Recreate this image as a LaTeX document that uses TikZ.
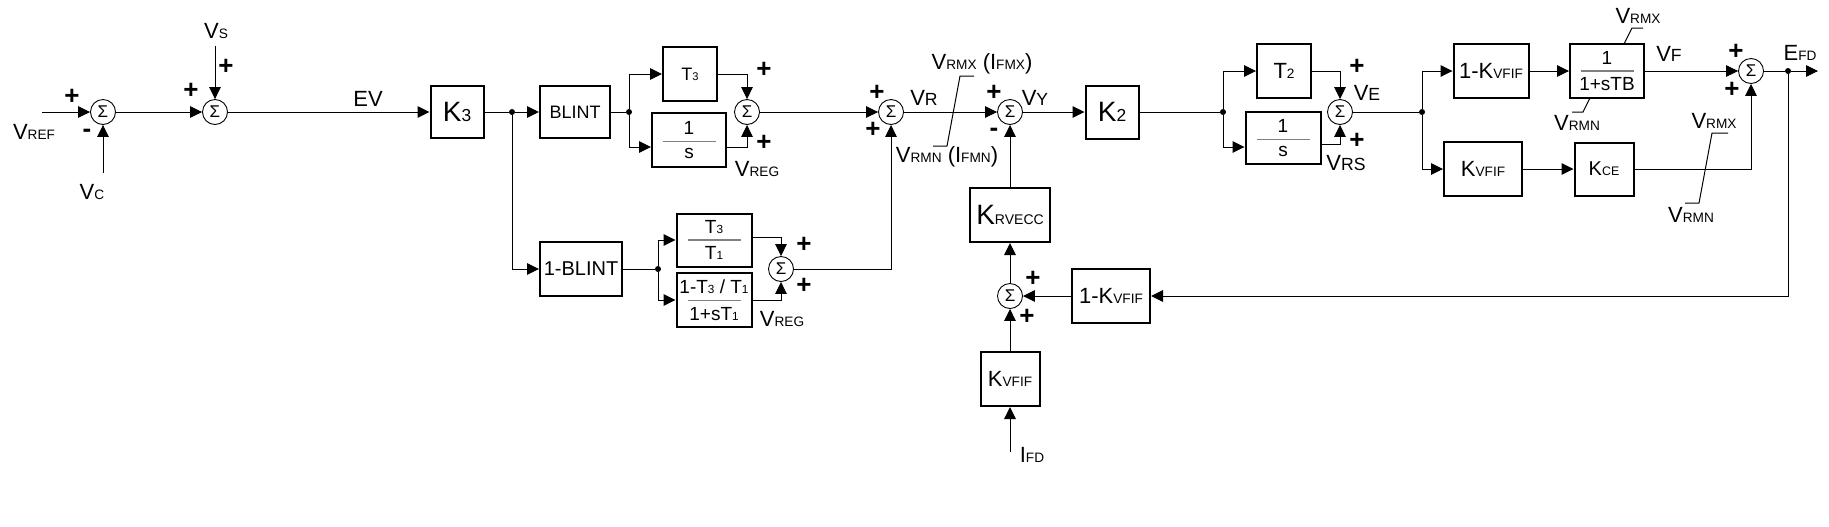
\documentclass[tikz,border=0pt]{standalone}
\usepackage{fontspec}
\setmainfont{Liberation Sans}
\usetikzlibrary{arrows.meta,positioning}
\makeatletter
% smaller letters on the baseline, scaled from the current size
\newcommand\lo[1]{{\fontsize{\strip@pt\dimexpr0.62\dimexpr\f@size pt\relax\relax}{1em}\selectfont #1}}
\newcommand\mo[1]{{\fontsize{\strip@pt\dimexpr0.8\dimexpr\f@size pt\relax\relax}{1em}\selectfont #1}}
\newcommand\so[1]{{\fontsize{\strip@pt\dimexpr0.5\dimexpr\f@size pt\relax\relax}{1em}\selectfont #1}}
\makeatother
\newcommand\frc[2]{\shortstack{#1\\\textcolor{gray}{\rule{26.5pt}{0.7pt}}\\#2}}

\begin{document}
\begin{tikzpicture}[x=0.5pt,y=-0.5pt]
\tikzset{
  blk/.style={draw,line width=1pt,inner sep=1pt,align=center},
  bigtxt/.style={font=\fontsize{14}{16}\selectfont},
  midtxt/.style={font=\fontsize{11}{13}\selectfont},
  smalltxt/.style={font=\fontsize{9}{11}\selectfont},
  fractxt/.style={font=\fontsize{9.5}{11}\selectfont},
  sumnode/.style={circle,draw,line width=0.45pt,minimum size=12.5pt,inner sep=0pt,font=\fontsize{8.5}{9}\selectfont},
  sig/.style={font=\fontsize{13}{14}\selectfont\bfseries,inner sep=0pt},
  lbl/.style={font=\fontsize{11}{12}\selectfont,inner sep=0pt},
  wire/.style={line width=0.5pt},
  arr/.style={wire,-{Triangle[length=6pt,width=5.8pt]}},
  jdot/.style={circle,fill,inner sep=0pt,minimum size=3pt}
}
\useasboundingbox (0,0) rectangle (1829,526);

% summing points
\node[sumnode] (s1) at (103,112) {Σ};
\node[sumnode] (s2) at (215,112) {Σ};
\node[sumnode] (s3) at (747,112) {Σ};
\node[sumnode] (s4) at (891,112) {Σ};
\node[sumnode] (s5) at (781,269) {Σ};
\node[sumnode] (s6) at (1010,112) {Σ};
\node[sumnode] (s7) at (1010,296) {Σ};
\node[sumnode] (s8) at (1340,112) {Σ};
\node[sumnode] (s9) at (1751,71) {Σ};

% blocks
\node[blk,bigtxt,minimum width=26.5pt,minimum height=26pt] (k3) at (457,112) {K\lo{3}};
\node[blk,font=\fontsize{9}{11}\selectfont,minimum width=35pt,minimum height=26pt] (blint) at (575,112) {BLINT};
\node[blk,smalltxt,minimum width=27pt,minimum height=27pt] (t3) at (690,74) {T\lo{3}};
\node[blk,fractxt,minimum width=37pt,minimum height=27pt] (ints) at (689,140) {\frc{1}{s}};
\node[blk,font=\fontsize{10}{12}\selectfont,minimum width=41pt,minimum height=27pt] (nblint) at (581,269) {1-BLINT};
\node[blk,fractxt,minimum width=37.5pt,minimum height=26.5pt] (t3t1) at (714,240) {\frc{T\lo{3}}{T\lo{1}}};
\node[blk,fractxt,minimum width=37.5pt,minimum height=27pt] (lag) at (714,300) {\frc{1-T\lo{3} / T\lo{1}}{1+sT\lo{1}}};
\node[blk,bigtxt,minimum width=26.5pt,minimum height=26.5pt] (k2) at (1112,112) {K\lo{2}};
\node[blk,bigtxt,minimum width=40pt,minimum height=27pt] (krvecc) at (1010,215) {K\so{RVECC}};
\node[blk,midtxt,minimum width=39pt,minimum height=27pt] (nkvfif2) at (1111,296) {1-K\lo{VFIF}};
\node[blk,midtxt,minimum width=29.5pt,minimum height=27pt] (kvfif2) at (1010,379) {K\lo{VFIF}};
\node[blk,midtxt,minimum width=27pt,minimum height=27pt] (t2) at (1284,71) {T\lo{2}};
\node[blk,fractxt,minimum width=37.5pt,minimum height=26pt] (ints2) at (1283,138) {\frc{1}{s}};
\node[blk,midtxt,minimum width=37.5pt,minimum height=27pt] (nkvfif) at (1491,71) {1-K\lo{VFIF}};
\node[blk,midtxt,minimum width=39pt,minimum height=27pt] (kvfif) at (1483,169) {K\lo{VFIF}};
\node[blk,fractxt,minimum width=37pt,minimum height=27pt] (lagb) at (1607,71) {\frc{1}{1+sTB}};
\node[blk,font=\fontsize{10}{12}\selectfont,minimum width=29.5pt,minimum height=26.5pt] (kce) at (1604,169) {K\lo{CE}};

% junctions and free ends
\node[jdot] (d1) at (512,112) {};
\node[jdot] (d2) at (629,112) {};
\node[jdot] (d3) at (658,269) {};
\node[jdot] (d4) at (1223,112) {};
\node[jdot] (d5) at (1422,112) {};
\node[jdot] (d6) at (1788,71) {};
\coordinate (vref) at (42,112);
\coordinate (vc) at (103,173);
\coordinate (vs) at (215,46);
\coordinate (ifd) at (1010,452);
\coordinate (efd) at (1818,71);

% connectors
\draw[arr] (vref) -- (s1);
\draw[arr] (vc) -- (s1);
\draw[arr] (s1) -- (s2);
\draw[arr] (vs) -- (s2);
\draw[arr] (s2) -- (k3);
\draw[wire] (k3) -- (d1);
\draw[arr] (d1) -- (blint);
\draw[wire] (blint) -- (d2);
\draw[arr] (d2) |- (t3);
\draw[arr] (d2) |- ([yshift=-3.5pt]ints.west);
\draw[arr] (t3) -| (s3);
\draw[arr] ([yshift=-3.5pt]ints.east) -| (s3);
\draw[arr] (s3) -- (s4);
\draw[arr] (d1) |- (nblint);
\draw[wire] (nblint) -- (d3);
\draw[arr] (d3) |- (t3t1);
\draw[arr] (d3) |- (lag);
\draw[arr] ([yshift=1.5pt]t3t1.east) -| (s5);
\draw[arr] (lag) -| (s5);
\draw[arr] (s5) -| (s4);
\draw[arr] (s4) -- (s6);
\draw[arr] (s6) -- (k2);
\draw[wire] (k2) -- (d4);
\draw[arr] (d4) |- (t2);
\draw[arr] (d4) |- ([yshift=-4.5pt]ints2.west);
\draw[arr] (t2) -| (s8);
\draw[arr] ([yshift=-3pt]ints2.east) -| (s8);
\draw[wire] (s8) -- (d5);
\draw[arr] (d5) |- (nkvfif);
\draw[arr] (d5) |- (kvfif);
\draw[arr] (nkvfif) -- (lagb);
\draw[arr] (kvfif) -- (kce);
\draw[arr] (lagb) -- (s9);
\draw[arr] (kce) -| (s9);
\draw[wire] (s9) -- (d6);
\draw[arr] (d6) -- (efd);
\draw[arr] (d6) |- (nkvfif2);
\draw[arr] (nkvfif2) -- (s7);
\draw[arr] (ifd) -- (kvfif2);
\draw[arr] (kvfif2) -- (s7);
\draw[arr] (s7) -- (krvecc);
\draw[arr] (krvecc) -- (s6);

% limits
\draw[wire] (933,146) -- (947,146) -- (960,76) -- (974,76);
\draw[wire] (1685,203) -- (1699,203) -- (1712,133) -- (1728,133);
\draw[wire] (1624,44) -- (1632,28) -- (1643,28);
\draw[wire] (1590,98) -- (1583,112) -- (1572,112);

% signs
\node[sig] at (72,97) {+};
\node[sig] at (87,133) {-};
\node[sig] at (226,67) {+};
\node[sig] at (191,91) {+};
\node[sig] at (764,70) {+};
\node[sig] at (764,143) {+};
\node[sig] at (877,93) {+};
\node[sig] at (873,130) {+};
\node[sig] at (994,93) {+};
\node[sig] at (994,132) {-};
\node[sig] at (804,245) {+};
\node[sig] at (804,286) {+};
\node[sig] at (1033,279) {+};
\node[sig] at (1027,317) {+};
\node[sig] at (1357,67) {+};
\node[sig] at (1357,141) {+};
\node[sig] at (1736,52) {+};
\node[sig] at (1732,90) {+};

% signal names
\node[lbl] at (34,132) {V\lo{REF}};
\node[lbl] at (92,192) {V\lo{C}};
\node[lbl] at (216,31) {V\lo{S}};
\node[lbl] at (368,99) {EV};
\node[lbl] at (757,169) {V\lo{REG}};
\node[lbl] at (782,319) {V\lo{REG}};
\node[lbl] at (924,98) {V\mo{R}};
\node[lbl] at (982,64) {V\lo{RMX} (I\lo{FMX})};
\node[lbl] at (947,157) {V\lo{RMN} (I\lo{FMN})};
\node[lbl] at (1035,98) {V\mo{Y}};
\node[lbl] at (1032,455) {I\lo{FD}};
\node[lbl] at (1367,93) {V\mo{E}};
\node[lbl] at (1346,163) {V\mo{RS}};
\node[lbl] at (1638,16) {V\lo{RMX}};
\node[lbl] at (1577,123) {V\lo{RMN}};
\node[lbl] at (1669,54) {V\mo{F}};
\node[lbl] at (1800,53) {E\lo{FD}};
\node[lbl] at (1714,121) {V\lo{RMX}};
\node[lbl] at (1691,215) {V\lo{RMN}};
\end{tikzpicture}
\end{document}
